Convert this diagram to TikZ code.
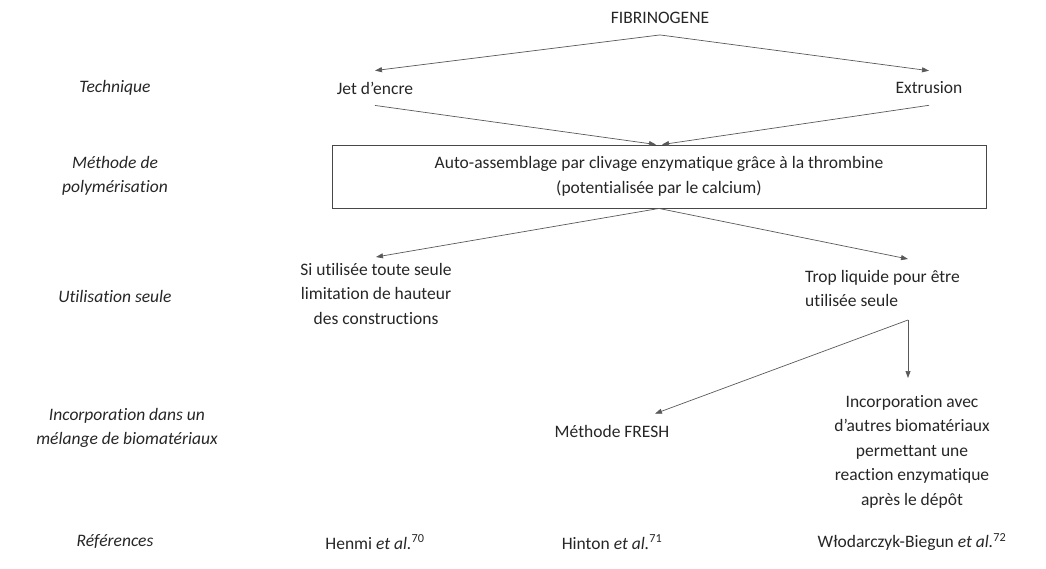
\documentclass[tikz,border=0pt]{standalone}
\usepackage{fontspec}
\setmainfont{Carlito}[Ligatures={NoCommon}]
\usepackage{tikz}
\usetikzlibrary{positioning, calc, arrows.meta}

\definecolor{ink}{HTML}{262626}
\definecolor{wire}{HTML}{595959}

\tikzset{
  txt/.style={font=\fontsize{17.5}{24.5}\selectfont, text=ink, align=center, inner xsep=0pt, inner ysep=6pt},
  one/.style={txt, inner ysep=11pt},
  lbl/.style={txt, font=\fontsize{17.5}{24.5}\selectfont\itshape},
  arr/.style={draw=wire, line width=0.7pt, -{Triangle[length=7pt,width=5pt]}},
  frame/.style={txt, draw=ink!85, line width=0.9pt, minimum width=654pt, minimum height=63pt}
}

\begin{document}
\begin{tikzpicture}[x=1pt, y=-1pt]
\useasboundingbox (0,0) rectangle (1046,568);

\node[one] (fib) at (660,18) {FIBRINOGENE};
\node[one] (jet) at (375,88) {Jet d'encre};
\node[one] (extr) at (929,88) {Extrusion};
\node[frame] (poly) at (659,176.5) {Auto-assemblage par clivage enzymatique grâce à la thrombine\\(potentialisée par le calcium)};
\node[txt, anchor=north] (seul) at (376,257) {Si utilisée toute seule\\limitation de hauteur\\des constructions};
\node[txt, anchor=north west, align=left, inner ysep=11pt] (liq) at (805,259) {Trop liquide pour être\\utilisée seule};
\coordinate (split) at (908,320);
\node[txt, anchor=north, inner ysep=17pt] (incorp) at (912,378) {Incorporation avec\\d'autres biomatériaux\\permettant une\\reaction enzymatique\\après le dépôt};
\node[one] (fresh) at (612,431) {Méthode FRESH};

\node[lbl] (l1) at (115,88) {Technique};
\node[lbl] (l2) at (115,176) {Méthode de\\polymérisation};
\node[lbl] (l3) at (115,296) {Utilisation seule};
\node[lbl] (l4) at (127,428) {Incorporation dans un\\mélange de biomatériaux};
\node[lbl] (l5) at (115,542) {Références};

\node[txt] (r1) at (375,542) {Henmi \textit{et al.}\textsuperscript{70}};
\node[txt] (r2) at (612,542) {Hinton \textit{et al.}\textsuperscript{71}};
\node[txt] (r3) at (912,542) {Włodarczyk-Biegun \textit{et al.}\textsuperscript{72}};

\draw[arr] (fib.south) -- (jet.north);
\draw[arr] (fib.south) -- (extr.north);
\draw[arr] (jet.south) -- ([xshift=-3pt]poly.north);
\draw[arr] (extr.south) -- ([xshift=3pt]poly.north);
\draw[arr] (poly.south) -- (seul.north);
\draw[arr] (poly.south) -- (liq.north -| split);
\draw[arr] (split) -- (incorp.north -| split);
\draw[arr] (split) -- ([xshift=43pt]fresh.north);
\end{tikzpicture}
\end{document}
